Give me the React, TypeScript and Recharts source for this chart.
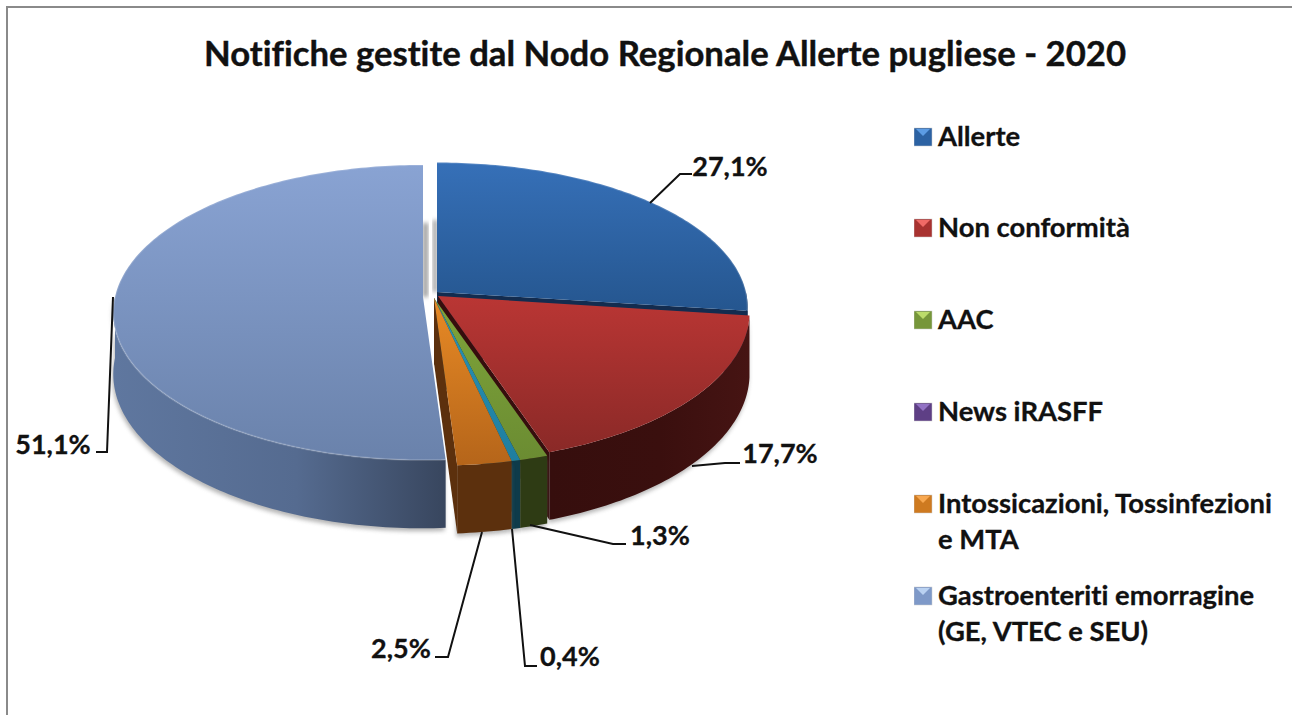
import { Legend, Pie, PieChart } from "recharts"

const categories = [
  "Allerte",
  "Non conformità",
  "AAC",
  "News iRASFF",
  "Intossicazioni, Tossinfezioni e MTA",
  "Gastroenteriti emorragine (GE, VTEC e SEU)",
]
const shares = [27.1, 17.7, 1.3, 0.4, 2.5, 51.1]

const chartData = categories.map((name, i) => ({ name, value: shares[i] }))

/* ── Styling per slice ── */

const topColors = [
  ["#3670B8", "#25568F"],
  ["#BA3634", "#8A2927"],
  ["#7FA53A", "#6B8C32"],
  ["#2A93B5", "#1F7E9F"],
  ["#E88A25", "#B5651A"],
  ["#89A3D3", "#6A82AB"],
]
const wallColors = [
  ["#132C4F", "#132C4F", "#132C4F"],
  ["#360E0D", "#3A0F0E", "#461413"],
  ["#2E3B14", "#2E3B14", "#2E3B14"],
  ["#0E3B4A", "#0E3B4A", "#0E3B4A"],
  ["#5C300D", "#5C300D", "#5C300D"],
  ["#5F779F", "#556B90", "#38465E"],
]
const legendColors = [
  ["#2C62A3", "#5C9CE4"],
  ["#A83230", "#F06A66"],
  ["#76963A", "#BBDB6A"],
  ["#5E3F85", "#9272C4"],
  ["#CE7A20", "#F8A850"],
  ["#7E99C8", "#BAD2F2"],
]
// offset of the slice from the pie centre and its radius, exploded slices
const explode = [
  { dx: 4, dy: -5, rx: 1.003, ry: 0.98 },
  { dx: 5, dy: -1, rx: 1.006, ry: 1.018 },
  { dx: 1, dy: 1, rx: 1.023, ry: 1.028 },
  { dx: 1, dy: 1, rx: 1.023, ry: 1.028 },
  { dx: 1, dy: 1, rx: 1.023, ry: 1.028 },
  { dx: -10, dy: 0, rx: 1, ry: 1 },
]
const labelSpots = [
  { x: 730, y: 165, line: [[650, 203], [680, 174], [692, 174]] },
  { x: 780, y: 452, line: [[692, 466], [725, 463], [740, 463]] },
  { x: 660, y: 534, line: [[530, 525], [613, 544], [626, 544]] },
  { x: 570, y: 655, line: [[512, 529], [525, 666], [537, 666]] },
  { x: 401, y: 647, line: [[482, 532], [448, 657], [435, 657]] },
  { x: 53, y: 443, line: [[113, 297], [107, 452], [96, 452]] },
]
const legendTops = [118, 209, 301, 393, 485, 577]

const CENTER_X = 433
const CENTER_Y = 297
const RADIUS = 308
const TILT = 0.474
const PERSPECTIVE = 0.105
const WALL = 61

/* ── 3D slice ── */

function rimPoint(deg: number, r: number, s: number) {
  const a = (deg * Math.PI) / 180
  const w = 1 + PERSPECTIVE * Math.cos(a)
  return {
    x: (r * Math.sin(a)) / w,
    y: (-s * Math.cos(a)) / w,
    drop: WALL / w,
  }
}

function rimPoints(from: number, to: number, r: number, s: number) {
  const pts = []
  for (let d = from; d < to; d += 1) pts.push(rimPoint(d, r, s))
  pts.push(rimPoint(to, r, s))
  return pts
}

// eslint-disable-next-line @typescript-eslint/no-explicit-any
function Slice3D(props: any) {
  const { cx, cy, outerRadius, startAngle, endAngle, index } = props
  const from = 90 - startAngle
  const to = 90 - endAngle
  const e = explode[index]
  const ax = cx + e.dx
  const ay = cy + e.dy
  const r = outerRadius * e.rx
  const s = outerRadius * TILT * e.ry

  const rim = rimPoints(from, to, r, s)
  const top = `M${ax},${ay} ` + rim.map((p) => `L${ax + p.x},${ay + p.y}`).join(" ") + " Z"
  const edge = "M" + rim.map((p) => `${ax + p.x},${ay + p.y}`).join(" L")

  const wallFrom = Math.max(from, 90)
  const wallTo = Math.min(to, 270)
  const wallRim = wallTo > wallFrom ? rimPoints(wallFrom, wallTo, r, s) : []
  const wall = wallRim.length
    ? "M" +
      wallRim.map((p) => `${ax + p.x},${ay + p.y}`).join(" L") +
      " L" +
      [...wallRim].reverse().map((p) => `${ax + p.x},${ay + p.y + p.drop}`).join(" L") +
      " Z"
    : ""

  const last = rim[rim.length - 1]
  const cut =
    to <= 180
      ? `M${ax},${ay} L${ax},${ay + WALL + 4} L${ax + last.x},${ay + last.y + last.drop} L${ax + last.x},${ay + last.y} Z`
      : ""

  const topId = `top-${index}`
  const wallId = `wall-${index}`
  const blurId = `blur-${index}`
  const [c1, c2] = topColors[index]
  const [w1, w2, w3] = wallColors[index]

  return (
    <g>
      <defs>
        <linearGradient id={topId} x1="0" y1="0" x2="0" y2="1">
          <stop offset="0%" stopColor={c1} />
          <stop offset="100%" stopColor={c2} />
        </linearGradient>
        <linearGradient id={wallId} x1="0" y1="0" x2="1" y2="0">
          <stop offset="0%" stopColor={w1} />
          <stop offset="55%" stopColor={w2} />
          <stop offset="100%" stopColor={w3} />
        </linearGradient>
        <filter id={blurId} x="-20%" y="-20%" width="140%" height="140%">
          <feGaussianBlur stdDeviation="2" />
        </filter>
      </defs>
      {index === 0 && (
        <rect x={ax - 4} y={ay - 72} width={4} height={72} fill="#9a9a9a" filter={`url(#${blurId})`} />
      )}
      {index === 5 && (
        <rect x={ax} y={ay - 74} width={5} height={74} fill="#9a9a9a" filter={`url(#${blurId})`} />
      )}
      {wall && (
        <path d={wall} fill="#777" opacity={0.55} transform="translate(-1,3)" filter={`url(#${blurId})`} />
      )}
      {cut && <path d={cut} fill={w1} />}
      {wall && <path d={wall} fill={`url(#${wallId})`} />}
      <path d={top} fill={`url(#${topId})`} />
      {(index === 0 || index === 5) && (
        <path d={edge} fill="none" stroke="#ffffff" strokeOpacity={0.16} strokeWidth={2} />
      )}
    </g>
  )
}

/* ── Labels and leader lines ── */

const percentLabel = (v: number) => v.toFixed(1).replace(".", ",") + "%"

// eslint-disable-next-line @typescript-eslint/no-explicit-any
function SliceLabel({ index }: any) {
  const spot = labelSpots[index]
  return (
    <text
      x={spot.x}
      y={spot.y}
      textAnchor="middle"
      dominantBaseline="central"
      fontFamily="Lato, sans-serif"
      fontWeight={700}
      fontSize={27}
      fill="#111"
      stroke="#111"
      strokeWidth={0.3}
    >
      {percentLabel(shares[index])}
    </text>
  )
}

// eslint-disable-next-line @typescript-eslint/no-explicit-any
function LeaderLine({ index }: any) {
  const pts = labelSpots[index].line.map((p) => p.join(",")).join(" ")
  return <polyline points={pts} fill="none" stroke="#111" strokeWidth={2} />
}

/* ── Legend ── */

function ChartLegend() {
  return (
    <div style={{ position: "relative", height: 0 }}>
      {categories.map((name, i) => (
        <div
          key={name}
          style={{
            position: "absolute",
            left: 914,
            top: legendTops[i],
            width: 365,
            display: "flex",
            fontFamily: "Lato, sans-serif",
            fontWeight: 700,
            fontSize: 27.4,
            lineHeight: "36px",
            color: "#111",
            fontVariantLigatures: "none",
            WebkitTextStroke: "0.3px #111",
          }}
        >
          <svg width={24} height={36} style={{ flexShrink: 0 }}>
            <rect x={0} y={10} width={18} height={18} fill={legendColors[i][0]} stroke="#ccc" strokeWidth={0.5} />
            <polygon points="2,11 16,11 9,18" fill={legendColors[i][1]} />
          </svg>
          <span>{name}</span>
        </div>
      ))}
    </div>
  )
}

export default function App() {
  return (
    <div style={{ position: "absolute", left: 0, top: 0, width: 1292, height: 715, background: "#fff", overflow: "hidden" }}>
      <div
        style={{
          position: "absolute",
          left: 6,
          top: 6,
          width: 1292,
          height: 715,
          borderLeft: "2px solid #8a8a8a",
          borderTop: "2px solid #8a8a8a",
        }}
      />
      <div style={{ position: "absolute", left: 0, top: 0 }}>
        <PieChart width={1292} height={715} margin={{ top: 0, right: 0, bottom: 0, left: 0 }}>
          <text
            x={665}
            y={52}
            textAnchor="middle"
            dominantBaseline="central"
            fontFamily="Lato, sans-serif"
            fontWeight={700}
            fontSize={34.7}
            fill="#111"
            stroke="#111"
            strokeWidth={0.4}
            style={{ fontVariantLigatures: "none" }}
          >
            Notifiche gestite dal Nodo Regionale Allerte pugliese - 2020
          </text>
          <Legend
            content={<ChartLegend />}
            wrapperStyle={{ position: "absolute", left: 0, top: 0, width: 1292, height: 0 }}
          />
          <Pie
            data={chartData}
            dataKey="value"
            nameKey="name"
            cx={CENTER_X}
            cy={CENTER_Y}
            outerRadius={RADIUS}
            startAngle={90}
            endAngle={-270}
            stroke="none"
            shape={<Slice3D />}
            label={<SliceLabel />}
            labelLine={<LeaderLine />}
            isAnimationActive={false}
          />
        </PieChart>
      </div>
    </div>
  )
}
